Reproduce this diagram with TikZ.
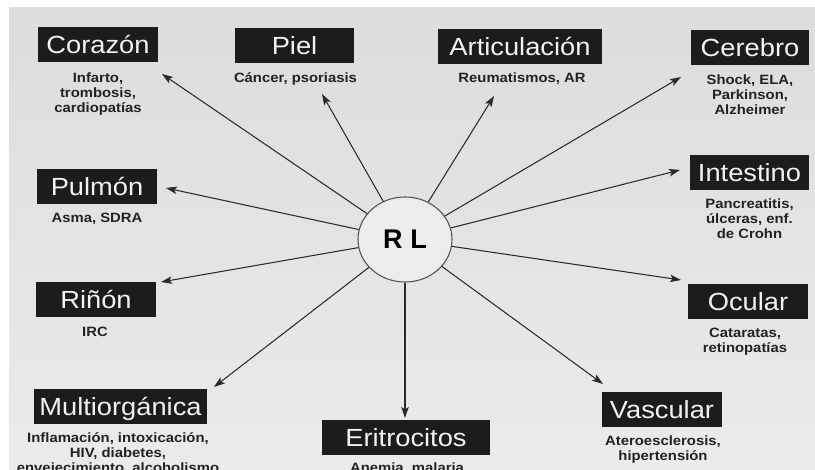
\documentclass[tikz,border=0pt]{standalone}
\usepackage{fontspec}
\setmainfont[FakeStretch=1.1]{Liberation Sans}
\newfontfamily\rlfont{Liberation Sans}
\usetikzlibrary{arrows.meta,shapes.geometric}
\definecolor{bgtop}{HTML}{DCDCDC}
\definecolor{bgbot}{HTML}{EBEBEB}
\definecolor{boxc}{HTML}{1C1C1C}
\definecolor{subc}{HTML}{222222}
\definecolor{linec}{HTML}{2A2A2A}
\definecolor{circfill}{HTML}{ECECEC}
\definecolor{circline}{HTML}{555555}
\begin{document}
\begin{tikzpicture}[x=1pt,y=-1pt,
  titlebox/.style={fill=boxc, text=white!95!black, inner sep=0pt, minimum height=35pt,
    text height=17.6pt, text depth=0pt, font=\fontsize{24.8}{24.8}\selectfont},
  sub/.style={anchor=north, align=center, text=subc, inner sep=0pt,
    font=\fontsize{13.5}{15}\selectfont\bfseries},
  arr/.style={draw=linec, line width=1.05pt, -{Stealth[length=11pt,width=7.5pt,inset=2.5pt]}},
  rlcircle/.style={ellipse, draw=circline, line width=1.1pt, fill=circfill,
    minimum width=94pt, minimum height=85pt, inner sep=0pt}]
\useasboundingbox (0,0) rectangle (815,470);
\fill[white] (0,0) rectangle (815,470);
\shade[top color=bgtop, bottom color=bgbot] (9,8) rectangle (815,470);

% title boxes
\node[titlebox, minimum width=120pt] (corazon) at (98,44.5) {Corazón};
\node[titlebox, minimum width=119pt] (piel) at (294.5,45.5) {Piel};
\node[titlebox, minimum width=164pt] (artic) at (520,47) {Articulación};
\node[titlebox, minimum width=118pt] (cerebro) at (750,48) {Cerebro};
\node[titlebox, minimum width=120pt] (pulmon) at (97,186.5) {Pulmón};
\node[titlebox, minimum width=119pt] (intestino) at (749.5,172.5) {Intestino};
\node[titlebox, minimum width=120pt] (rinon) at (96,299.5) {Riñón};
\node[titlebox, minimum width=120pt] (ocular) at (748,301.5) {Ocular};
\node[titlebox, minimum width=173pt] (multi) at (120.5,406.5) {Multiorgánica};
\node[titlebox, minimum width=168pt] (eritro) at (406,438) {Eritrocitos};
\node[titlebox, minimum width=120pt] (vascular) at (662,409.5) {Vascular};

% descriptions
\node[sub] (corazonS) at ([yshift=-10pt]corazon.south) {Infarto,\\trombosis,\\cardiopatías};
\node[sub] (pielS) at ([yshift=-9pt,xshift=1pt]piel.south) {Cáncer, psoriasis};
\node[sub] (articS) at ([yshift=-8pt,xshift=2pt]artic.south) {Reumatismos, AR};
\node[sub] (cerebroS) at ([yshift=-9pt]cerebro.south) {Shock, ELA,\\Parkinson,\\Alzheimer};
\node[sub] (pulmonS) at ([yshift=-9pt]pulmon.south) {Asma, SDRA};
\node[sub] (intestinoS) at ([yshift=-8pt]intestino.south) {Pancreatitis,\\úlceras, enf.\\de Crohn};
\node[sub] (rinonS) at ([yshift=-10pt,xshift=-1pt]rinon.south) {IRC};
\node[sub] (ocularS) at ([yshift=-9pt,xshift=-3pt]ocular.south) {Cataratas,\\retinopatías};
\node[sub] (multiS) at ([yshift=-8pt,xshift=-2.5pt]multi.south) {Inflamación, intoxicación,\\HIV, diabetes,\\envejecimiento, alcoholismo};
\node[sub] (eritroS) at ([yshift=-6.5pt,xshift=1pt]eritro.south) {Anemia, malaria};
\node[sub] (vascularS) at ([yshift=-8pt,xshift=1pt]vascular.south) {Ateroesclerosis,\\hipertensión};

% centre
\node[rlcircle] (rl) at (405,239.5) {\rlfont\fontsize{27}{27}\selectfont\bfseries R\hspace{8pt}L};

% arrow ends
\coordinate (tCorazon) at (162,74);
\coordinate (tPiel) at (322,94);
\coordinate (tArtic) at (494,96);
\coordinate (tCerebro) at (681,77);
\coordinate (tPulmon) at (166,188);
\coordinate (tIntestino) at (680,170);
\coordinate (tRinon) at (161,282);
\coordinate (tOcular) at (681,280);
\coordinate (tMulti) at (214,387);
\coordinate (tEritro) at (405,418);
\coordinate (tVascular) at (603,384);

\foreach \t in {tCorazon,tPiel,tArtic,tCerebro,tPulmon,tIntestino,tRinon,tOcular,tMulti,tEritro,tVascular}
  \draw[arr] (rl) -- (\t);
\end{tikzpicture}
\end{document}
